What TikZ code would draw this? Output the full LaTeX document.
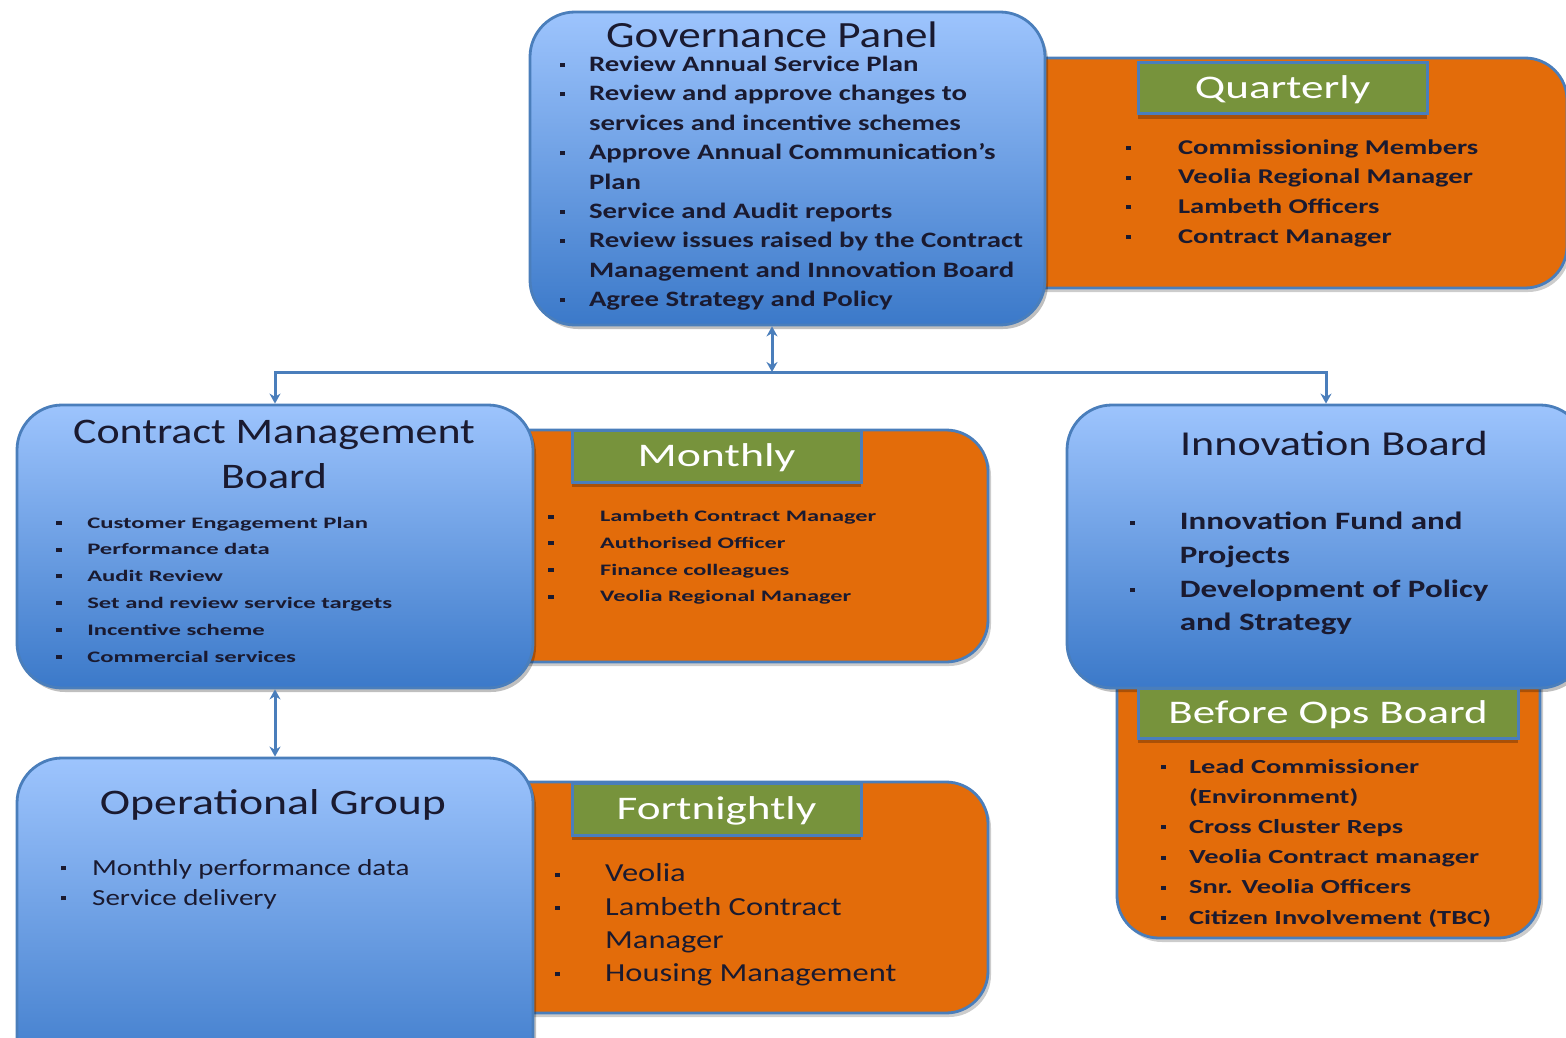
\documentclass[tikz,border=0pt]{standalone}
\usepackage{graphicx}
\usepackage{fontspec}
\setmainfont{Carlito}
\usetikzlibrary{arrows.meta,shadows}

\definecolor{edgeblue}{RGB}{74,126,187}
\definecolor{topblue}{RGB}{157,196,253}
\definecolor{lowblue}{RGB}{59,121,201}
\definecolor{panelorange}{RGB}{227,108,10}
\definecolor{tagolive}{RGB}{119,147,60}
\definecolor{inkdark}{RGB}{26,26,48}

\newcommand{\bsq}{\rule[0.2em]{4pt}{4pt}}
\newcommand{\fsz}[2]{\fontsize{#1}{#2}\selectfont}
\newcommand{\hstretch}[2]{\scalebox{#1}[1]{#2}}

\begin{document}
\begin{tikzpicture}[x=1pt,y=-1pt,>={Stealth[length=10pt,width=11pt]},
  board/.style={draw=edgeblue, line width=2.8pt, rounded corners=45pt, top color=topblue, bottom color=lowblue,
    drop shadow={shadow xshift=3pt, shadow yshift=-4pt, fill=black, opacity=0.25}},
  panel/.style={draw=edgeblue, line width=2.8pt, rounded corners=42pt, fill=panelorange,
    drop shadow={shadow xshift=3pt, shadow yshift=-4pt, fill=black, opacity=0.2}},
  tag/.style={draw=edgeblue, line width=3pt, fill=tagolive, text=white, text height=21pt, text depth=0pt,
    drop shadow={shadow xshift=0pt, shadow yshift=-5pt, fill=black, opacity=0.25}},
  title/.style={text=inkdark, anchor=base, inner sep=0pt},
  items/.style={text=inkdark, anchor=base west, inner sep=0pt},
  link/.style={draw=edgeblue, line width=3pt, ->},
  twoway/.style={draw=edgeblue, line width=3pt, <->}]
\useasboundingbox (0,0) rectangle (1566,1038);
\clip (0,0) rectangle (1566,1038);
\fill[white] (0,0) rectangle (1566,1038);

% orange panels sit behind the boards
\node[panel, minimum width=577pt, minimum height=230pt] (qtr) at (1278.5,173) {};
\node[panel, minimum width=518pt, minimum height=232pt] (mth) at (729,546) {};
\node[panel, minimum width=518pt, minimum height=231pt] (fnt) at (729,897.5) {};
\node[panel, minimum width=423pt, minimum height=298pt] (ops) at (1328.5,789) {};

% boards
\node[board, minimum width=515pt, minimum height=313pt] (gov) at (787.5,168.5) {};
\node[board, minimum width=516pt, minimum height=283pt] (cmb) at (275,546.5) {};
\node[board, minimum width=516pt, minimum height=332pt] (opg) at (275,924) {};
\node[board, minimum width=518pt, minimum height=283pt] (inno) at (1326,546.5) {};

% green tags
\node[tag, minimum width=289pt, minimum height=51pt] (qtag) at (1282.5,88.5) {\fsz{33}{36}\hstretch{1.37}{Quarterly}};
\node[tag, minimum width=289pt, minimum height=52pt] (mtag) at (716.5,456) {\fsz{33}{36}\hstretch{1.39}{Monthly}};
\node[tag, minimum width=289pt, minimum height=52pt] (ftag) at (716.5,809) {\fsz{33}{36}\hstretch{1.37}{Fortnightly}};
\node[tag, minimum width=380pt, minimum height=50pt] (otag) at (1328,713) {\fsz{33}{36}\hstretch{1.36}{Before Ops Board}};

% titles
\node[title] (govtitle) at (772,48) {\fsz{37}{40}\hstretch{1.22}{Governance Panel}};
\node[title] (cmbtitle) at (274,443) {\fsz{36}{45}\hstretch{1.22}{\begin{tabular}[t]{@{}c@{}}Contract Management\\Board\end{tabular}}};
\node[title] (innotitle) at (1334,455) {\fsz{35}{40}\hstretch{1.26}{Innovation Board}};
\node[title] (opgtitle) at (273,814) {\fsz{36}{40}\hstretch{1.27}{Operational Group}};

% bullet lists
\node[items] (govlist) at (560,71.5) {\fsz{22}{29.4}\bfseries\hstretch{1.31}{\begin{tabular}[t]{@{}p{22pt}@{}l@{}}
\bsq & Review Annual Service Plan\\
\bsq & Review and approve changes to\\
 & services and incentive schemes\\
\bsq & Approve Annual Communication's\\
 & Plan\\
\bsq & Service and Audit reports\\
\bsq & Review issues raised by the Contract\\
 & Management and Innovation Board\\
\bsq & Agree Strategy and Policy
\end{tabular}}};
\node[items] (qtrlist) at (1125.5,154) {\fsz{21}{29.7}\bfseries\hstretch{1.36}{\begin{tabular}[t]{@{}p{38.5pt}@{}l@{}}
\bsq & Commissioning Members\\
\bsq & Veolia Regional Manager\\
\bsq & Lambeth Officers\\
\bsq & Contract Manager
\end{tabular}}};
\node[items] (cmblist) at (55.5,528) {\fsz{16}{26.8}\bfseries\hstretch{1.54}{\begin{tabular}[t]{@{}p{20.5pt}@{}l@{}}
\bsq & Customer Engagement Plan\\
\bsq & Performance data\\
\bsq & Audit Review\\
\bsq & Set and review service targets\\
\bsq & Incentive scheme\\
\bsq & Commercial services
\end{tabular}}};
\node[items] (mthlist) at (547.5,521.7) {\fsz{16}{26.7}\bfseries\hstretch{1.52}{\begin{tabular}[t]{@{}p{34.5pt}@{}l@{}}
\bsq & Lambeth Contract Manager\\
\bsq & Authorised Officer\\
\bsq & Finance colleagues\\
\bsq & Veolia Regional Manager
\end{tabular}}};
\node[items] (opglist) at (60.5,875) {\fsz{23}{30}\hstretch{1.26}{\begin{tabular}[t]{@{}p{25pt}@{}l@{}}
\bsq & Monthly performance data\\
\bsq & Service delivery
\end{tabular}}};
\node[items] (fntlist) at (554.5,881.7) {\fsz{26}{33.3}\hstretch{1.25}{\begin{tabular}[t]{@{}p{40.4pt}@{}l@{}}
\bsq & Veolia\\
\bsq & Lambeth Contract\\
 & Manager\\
\bsq & Housing Management
\end{tabular}}};
\node[items] (innolist) at (1129.5,529.6) {\fsz{25}{33.7}\bfseries\hstretch{1.32}{\begin{tabular}[t]{@{}p{38pt}@{}l@{}}
\bsq & Innovation Fund and\\
 & Projects\\
\bsq & Development of Policy\\
 & and Strategy
\end{tabular}}};
\node[items] (opslist) at (1160.5,773) {\fsz{20}{30.2}\bfseries\hstretch{1.42}{\begin{tabular}[t]{@{}p{20pt}@{}l@{}}
\bsq & Lead Commissioner\\
 & (Environment)\\
\bsq & Cross Cluster Reps\\
\bsq & Veolia Contract manager\\
\bsq & Snr. Veolia Officers\\
\bsq & Citizen Involvement (TBC)
\end{tabular}}};

% connectors
\coordinate (bus) at (772,372);
\draw[twoway] (gov.south -| bus) -- (bus);
\draw[link] (bus) -| (cmb.north);
\draw[link] (bus) -| (inno.north);
\draw[twoway] (cmb.south) -- (opg.north);
\end{tikzpicture}
\end{document}
